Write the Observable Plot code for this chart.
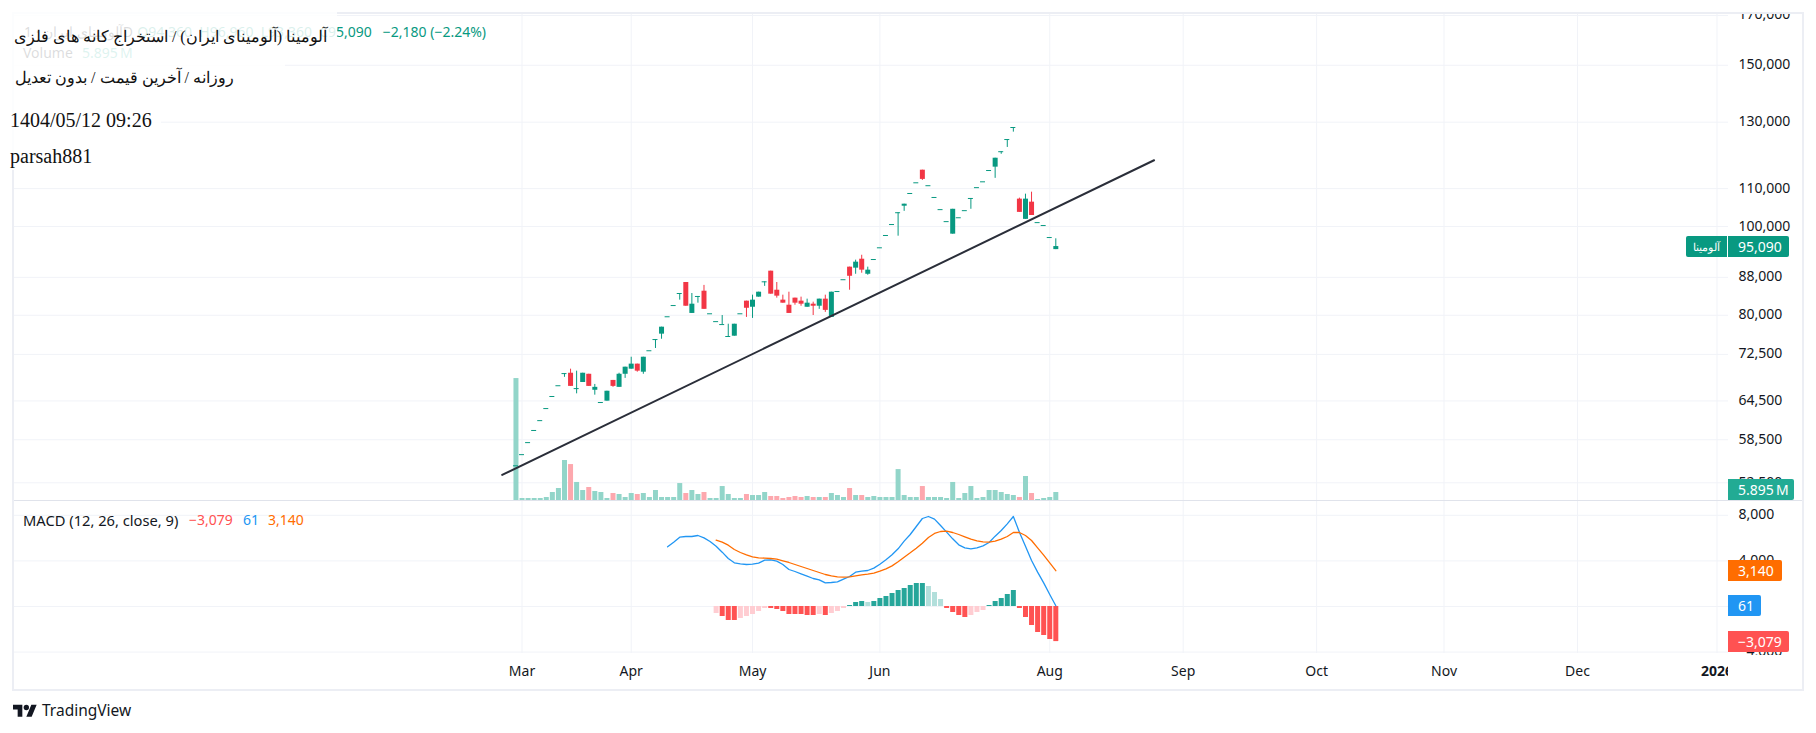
<!DOCTYPE html>
<html>
<head>
<meta charset="utf-8">
<script src="https://cdn.jsdelivr.net/npm/d3@7"></script>
<script src="https://cdn.jsdelivr.net/npm/@observablehq/plot@0.6"></script>
<style>
  body { margin: 0; background: #fff; }
  #page { position: relative; width: 1816px; height: 733px; overflow: hidden; font-family: "Noto Sans", sans-serif; color: #131722; }
  #page > svg, #page > .layer { position: absolute; left: 0; }
  .abs { position: absolute; white-space: pre; line-height: 1; }
  .tag { position: absolute; height: 21px; line-height: 21px; color: #fff; font-size: 14px; border-radius: 0 2px 2px 0; padding-left: 10px; box-sizing: border-box; }
  .serif { font-family: "Liberation Serif", "DejaVu Serif", serif; font-size: 20px; color: #111; }
</style>
</head>
<body>
<div id="page"></div>
<script>
// one value per daily bar
const opens = [54790,56350,58080,59880,61380,63270,65220,67010,69090,69150,66500,67560,68970,66250,64240,64460,67910,66740,68970,69860,70750,69330,73170,75260,76290,79700,81980,84500,86870,80370,83870,84990,80300,78730,78150,75840,75900,80300,82890,81630,83730,87020,89380,85200,83100,82050,83520,82890,81630,82260,81840,83310,79570,84920,87480,90290,90060,92110,88690,92040,94790,97770,100500,103530,105240,108660,111620,115220,110810,107580,104340,101240,98100,102230,104070,107310,110270,111900,115120,116100,120700,124450,128270,107130,101820,106320,100990,100250,97270,94360];
const highs = [54790,56350,58080,59880,61380,63270,65220,67010,69090,69860,69510,69150,68970,67230,64240,66090,67910,69150,70210,71990,70750,71990,73170,75260,77640,79700,81980,84500,86870,84500,83870,86240,80300,78730,79950,78220,78220,80300,82890,84150,84780,87020,89380,86870,84150,84780,83520,83730,83310,82680,83310,84150,84780,84920,87480,90290,91890,93030,90290,92040,94790,97770,100500,103530,105780,108660,111620,115220,110810,107580,104340,101240,104430,102230,104070,107310,110270,111900,115120,118740,120700,124450,128270,107400,108480,109020,100990,100250,97270,96960];
const lows = [54790,56350,58080,59880,61380,63270,65220,67010,68440,66900,65660,67560,66900,65440,64240,64460,66740,66740,68260,69860,69330,68970,73170,73590,75320,79700,81980,83100,81840,80370,82470,81200,80300,78730,78150,75840,75900,80300,79570,79370,83730,86030,84360,83520,82470,80370,82050,81840,81630,79950,81200,80580,79570,84920,87480,85200,88690,88920,88470,92040,94790,97770,100500,97600,103890,108660,111620,112290,110810,107580,104340,101240,98100,102230,104070,104430,110270,111900,115120,112880,119920,122000,126790,103620,101820,102810,100990,100250,97270,94360];
const closes = [54790,56350,58080,59880,61380,63270,65220,67010,69090,66900,66530,69150,66900,66740,64240,66090,66900,68970,70210,70750,69510,71990,73170,75260,77640,79700,81980,84500,81840,82260,83870,81200,80300,78730,78150,75840,78220,80300,81420,83100,84780,87020,84360,83940,82470,80370,82470,82260,82470,81840,83310,80990,84780,84920,87480,88240,91430,89610,89610,92040,94790,97770,100500,103530,105780,108660,111620,112580,110810,107580,104340,101240,104430,102230,104070,107310,110270,111900,115120,118740,120700,124450,128270,103620,107130,102810,100990,100250,97270,95090];
// millions of shares
const volumes = [89.9,1.47,1.47,1.47,1.47,2.21,5.89,8.84,29.5,26.5,13.3,7.37,9.58,6.63,5.89,1.47,5.16,4.42,2.21,5.16,4.42,5.16,2.21,7.37,2.21,2.21,2.21,12.5,5.16,7.37,4.42,5.89,1.47,1.47,10.3,4.42,1.47,1.47,4.42,3.68,3.68,5.89,2.95,2.95,1.47,2.21,2.95,2.21,2.95,2.21,2.21,2.21,5.16,3.68,2.21,8.84,3.68,3.68,2.21,2.95,2.21,2.21,2.21,22.8,3.68,2.21,2.21,10.3,2.21,2.21,2.21,1.47,13.3,1.47,5.16,10.3,1.47,2.21,7.37,7.37,5.89,4.42,3.68,2.21,17.7,5.16,0.74,1.47,2.21,5.895];

// macd starts at bar 25, signal and histogram at bar 33
const macdStart = 25;
const macdValues = [5234,5643,6082,6140,6140,6228,6023,5702,5292,4766,4211,3830,3743,3684,3713,3801,4064,4094,3977,3684,3246,3070,2866,2661,2456,2339,2076,2105,2164,2398,2632,3012,3099,3158,3363,3713,4094,4532,5059,5731,6316,7018,7719,7895,7661,7105,6521,5936,5409,5146,5059,5146,5322,5614,6170,6667,7252,7895,6521,5292,4035,3012,2076,1053,61];
const signalStart = 33;
const signalValues = [5819,5643,5380,5000,4737,4532,4357,4269,4240,4211,4152,4006,3860,3684,3509,3333,3158,2982,2807,2690,2602,2573,2602,2690,2778,2836,2924,3099,3304,3567,3918,4328,4708,5117,5556,6053,6404,6579,6608,6491,6316,6111,5906,5760,5673,5643,5731,5906,6140,6491,6491,6228,5790,5146,4503,3830,3140];
const histValues = [-614,-877,-1228,-1228,-1053,-877,-702,-439,-175,-175,-263,-439,-702,-702,-702,-789,-789,-702,-789,-614,-439,-175,88,351,439,351,439,702,877,1140,1404,1579,1842,2018,2018,1754,1228,614,-175,-526,-789,-965,-789,-526,-351,88,439,702,1053,1404,-175,-965,-1667,-2281,-2544,-2895,-3079];

const trendX = [-2.27, 105.2];
const trendY = [53560, 118130];

const priceTicks = [170000,150000,130000,110000,100000,88000,80000,72500,64500,58500,52500];
const macdTicks = [8000,4000,0,-4000];
const macdTickLabels = ["8,000","4,000","0","−4,000"];
const monthBars = [1,19,39,60,88,110,132,153,175];
const monthLabels = ["Mar","Apr","May","Jun","Aug","Sep","Oct","Nov","Dec"];
const yearBar = 198;

const green = "#089981", red = "#f23645", gridColor = "#f1f3f8";
const fontFamily = '"Noto Sans", sans-serif';
const bars = closes.map((close, i) => ({ i, open: opens[i], high: highs[i], low: lows[i], close, volume: volumes[i] }));
const candleColor = (d) => (d.close < d.open ? red : green);
const page = document.getElementById("page");

// all the panes share this x: bar number, with the empty future on the right
const xScale = { domain: [-83, 199.9], axis: null };
const shared = { width: 1816, marginLeft: 12, marginRight: 88, marginTop: 0, marginBottom: 0 };
const plotStyle = { background: "transparent", overflow: "hidden", fontFamily, fontSize: "14px", color: "#131722" };

function addPlot(top, options) {
    const chart = Plot.plot({ ...shared, x: xScale, style: plotStyle, ...options });
    chart.style.top = `${top}px`;
    page.appendChild(chart);
    return chart;
}

const priceScale = { type: "log", domain: [50213, 170857], axis: null };
const allBars = [...monthBars, yearBar];

// price grid and labels
const gridChart = addPlot(13, {
    height: 487,
    y: priceScale,
    marks: [
        Plot.gridY(priceTicks, { stroke: gridColor, strokeOpacity: 1 }),
        Plot.gridX(allBars, { stroke: gridColor, strokeOpacity: 1 }),
        Plot.axisY(priceTicks, { anchor: "right", tickSize: 0, tickPadding: 10, dy: -0.5, tickFormat: d3.format(","), label: null }),
    ],
});

// volume has its own scale, sitting on the bottom of the price pane
addPlot(13, {
    height: 487,
    y: { domain: [0, 359], axis: null },
    marks: [
        Plot.ruleX(bars, {
            x: "i",
            y1: 0,
            y2: "volume",
            strokeWidth: 5,
            stroke: (d) => (d.close < d.open ? "#fda8ae" : "#92d5c9"),
        }),
    ],
});

// candles and the hand drawn trend line
addPlot(13, {
    height: 487,
    y: priceScale,
    marks: [
        Plot.ruleX(bars, { x: "i", y1: "low", y2: "high", stroke: candleColor, strokeWidth: 1 }),
        Plot.ruleX(bars, { x: "i", y1: "open", y2: "close", stroke: candleColor, strokeWidth: 5 }),
        Plot.ruleY(bars.filter((d) => Math.abs(d.open - d.close) / d.open < 0.002), {
            y: "close",
            x1: (d) => d.i - 0.41,
            x2: (d) => d.i + 0.41,
            stroke: candleColor,
            strokeWidth: 1,
        }),
        Plot.line(trendX.map((x, i) => ({ x, y: trendY[i] })), { x: "x", y: "y", stroke: "#2a2e39", strokeWidth: 2 }),
    ],
});

// macd pane plus the time axis under it
const histColor = (v, k) => {
    if (k === 0) return "#ffcdd2";
    const prev = histValues[k - 1];
    if (v >= 0) return v >= prev ? "#26a69a" : "#b2dfdb";
    return v <= prev ? "#ff5252" : "#ffcdd2";
};
const hist = histValues.map((v, k) => ({ i: signalStart + k, v, color: histColor(v, k) }));
const macdLine = macdValues.map((v, k) => ({ i: macdStart + k, v }));
const signalLine = signalValues.map((v, k) => ({ i: signalStart + k, v }));

const macdChart = addPlot(500, {
    height: 189,
    marginBottom: 36,
    y: { domain: [-4123, 9298], axis: null },
    marks: [
        Plot.gridY(macdTicks, { stroke: gridColor, strokeOpacity: 1 }),
        Plot.gridX(allBars, { stroke: gridColor, strokeOpacity: 1 }),
        Plot.axisY(macdTicks, {
            anchor: "right",
            tickSize: 0,
            tickPadding: 10,
            dy: -0.5,
            tickFormat: (d) => macdTickLabels[macdTicks.indexOf(d)],
            label: null,
        }),
        Plot.ruleX(hist, { x: "i", y1: 0, y2: "v", stroke: "color", strokeWidth: 5 }),
        Plot.line(macdLine, { x: "i", y: "v", stroke: "#2196f3", strokeWidth: 1.3 }),
        Plot.line(signalLine, { x: "i", y: "v", stroke: "#ff6d00", strokeWidth: 1.3 }),
        Plot.axisX(monthBars, {
            anchor: "bottom",
            tickSize: 0,
            tickPadding: 13,
            tickFormat: (d) => monthLabels[monthBars.indexOf(d)],
            label: null,
        }),
        Plot.axisX([yearBar], {
            anchor: "bottom",
            tickSize: 0,
            tickPadding: 13,
            tickFormat: () => "2026",
            fontWeight: "bold",
            label: null,
        }),
    ],
});

function addDiv(className, css, text) {
    const el = document.createElement("div");
    el.className = className;
    el.style.cssText = css;
    if (text !== undefined) el.textContent = text;
    page.appendChild(el);
    return el;
}

// the year label is cut off by the price scale column
addDiv("abs", "left:1728px;top:655px;width:74px;height:33px;background:#fff");

// chart frame
addDiv("abs", "left:12px;top:12px;width:1792px;height:679px;box-sizing:border-box;border:2px solid #eceef4");
addDiv("abs", "left:14px;top:500px;width:1788px;height:1px;background:#e0e3eb");

// legends
addDiv("abs", "left:24px;top:25px;font-size:14px;color:#131722", "آلومینای ایران · 1D");
addDiv("abs", "left:0;width:486px;top:25px;text-align:right;font-size:14px;color:#089981", "O94,360  H96,960  L93,360  C95,090   −2,180 (−2.24%)");
addDiv("abs", "left:23px;top:46px;font-size:14px;color:#131722", "Volume");
addDiv("abs", "left:82px;top:46px;font-size:14px;color:#22ab94", "5.895\u2009M");
addDiv("abs", "left:23px;top:513px;font-size:14.7px", "MACD (12, 26, close, 9)");
addDiv("abs", "left:189px;top:513px;font-size:14px;color:#ff5252", "−3,079");
addDiv("abs", "left:243px;top:513px;font-size:14px;color:#2196f3", "61");
addDiv("abs", "left:268px;top:513px;font-size:14px;color:#ff6d00", "3,140");

// price tags, placed through the scales of their panes
const priceY = (v) => 13 + gridChart.scale("y").apply(v);
const macdY = (v) => 500 + macdChart.scale("y").apply(v);
function addTag(text, color, centerY, width) {
    addDiv("tag", `left:1728px;top:${centerY - 10.5}px;width:${width}px;background:${color}`, text);
}
addDiv("tag", `left:1686px;top:${priceY(95090) - 10.5}px;width:41px;background:${green};border-radius:2px 0 0 2px;padding:0;font-size:11px;text-align:center`, "آلومینا");
addTag("95,090", green, priceY(95090), 61);
addTag("5.895\u2009M", "#22ab94", 489.5, 66);
addTag("3,140", "#ff6d00", macdY(3140), 54);
addTag("61", "#2196f3", macdY(61), 33);
addTag("−3,079", "#ff5252", macdY(-3079), 61);

// white text boxes pasted over the top left corner
addDiv("abs", "left:0;top:0;width:337px;height:50px;background:rgba(255,255,255,0.85)");
addDiv("abs", "left:0;top:50px;width:285px;height:50px;background:rgba(255,255,255,0.85)");
addDiv("abs", "left:0;top:100px;width:161px;height:35px;background:rgba(255,255,255,0.85)");
addDiv("abs", "left:0;top:135px;width:96px;height:35px;background:rgba(255,255,255,0.85)");
addDiv("abs serif", "left:0;width:327px;top:29px;text-align:right;direction:rtl;font-size:16px", "آلومینا (آلومینای ایران) / استخراج کانه های فلزی");
addDiv("abs serif", "left:0;width:234px;top:70px;text-align:right;direction:rtl;font-size:16px", "روزانه / آخرین قیمت / بدون تعدیل");
addDiv("abs serif", "left:10px;top:110px", "1404/05/12 09:26");
addDiv("abs serif", "left:10px;top:146px", "parsah881");

// logo
const logo = addDiv("abs", "left:13px;top:702px;width:24px;height:19px");
logo.innerHTML = '<svg width="24" height="19" viewBox="0 0 36 28" fill="#131722"><path d="M14 22H7V11H0V4h14v18zM28 22h-8l7.5-18h8L28 22z"/><circle cx="20" cy="8" r="4"/></svg>';
addDiv("abs", "left:42px;top:703px;font-size:15.5px", "TradingView");
</script>
</body>
</html>
